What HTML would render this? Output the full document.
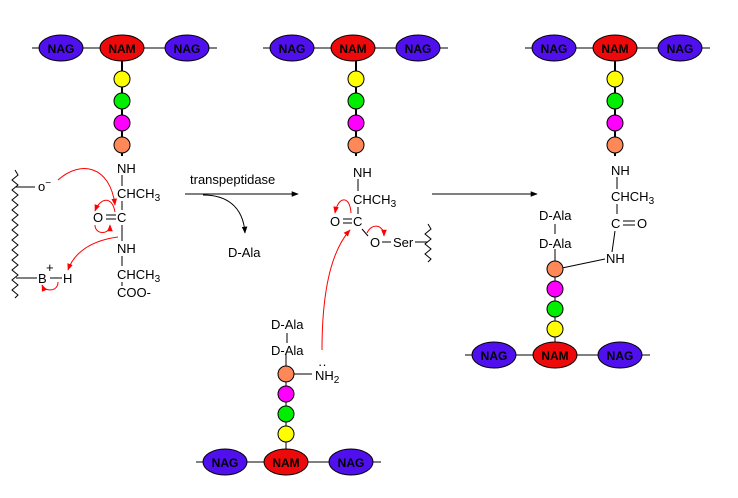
<!DOCTYPE html>
<html><head><style>body{margin:0;background:#fff}svg{display:block}text{font-family:"Liberation Sans",sans-serif;font-size:13px}.l{font-weight:bold;font-size:12px}</style></head><body>
<svg width="738" height="498" viewBox="0 0 738 498" xmlns="http://www.w3.org/2000/svg">
<defs>
<marker id="ar" viewBox="0 0 10 10" refX="9" refY="5" markerWidth="7" markerHeight="7" orient="auto"><path d="M0,1 L10,5 L0,9 z" fill="red"/></marker>
<marker id="ak" viewBox="0 0 10 10" refX="9" refY="5" markerWidth="7" markerHeight="7" orient="auto"><path d="M0,1 L10,5 L0,9 z" fill="#000"/></marker>
<g id="sug">
<line x1="-90" y1="0" x2="95" y2="0" stroke="#000"/>
<ellipse cx="-61" cy="0" rx="22" ry="13" fill="#5010ee" stroke="#000"/>
<ellipse cx="0" cy="0" rx="22" ry="13" fill="#ee0a0a" stroke="#000"/>
<ellipse cx="65" cy="0" rx="22" ry="13" fill="#5010ee" stroke="#000"/>
<text x="-61" y="5" class="l" text-anchor="middle">NAG</text>
<text x="0" y="5" class="l" text-anchor="middle">NAM</text>
<text x="65" y="5" class="l" text-anchor="middle">NAG</text>
</g>
<g id="beadsD">
<line x1="0" y1="0" x2="0" y2="108" stroke="#000" stroke-width="2"/>
<circle cx="0" cy="31" r="8" fill="#ffff00" stroke="#000"/>
<circle cx="0" cy="53" r="8" fill="#00ee00" stroke="#000"/>
<circle cx="0" cy="75" r="8" fill="#ff00ff" stroke="#000"/>
<circle cx="0" cy="97" r="8" fill="#ff8858" stroke="#000"/>
</g>
<g id="beadsU">
<line x1="0" y1="0" x2="0" y2="-108" stroke="#000"/>
<circle cx="0" cy="-28" r="8" fill="#ffff00" stroke="#000"/>
<circle cx="0" cy="-48" r="8" fill="#00ee00" stroke="#000"/>
<circle cx="0" cy="-68" r="8" fill="#ff00ff" stroke="#000"/>
<circle cx="0" cy="-88" r="8" fill="#ff8858" stroke="#000"/>
</g>
</defs>

<!-- Left -->
<use href="#beadsD" x="122" y="48"/>
<use href="#sug" x="122" y="48"/>
<text x="117" y="173">NH</text>
<line x1="122" y1="175" x2="122" y2="186" stroke="#000"/>
<text x="117" y="198">CHCH<tspan font-size="10" dy="3">3</tspan></text>
<line x1="122" y1="201" x2="122" y2="210" stroke="#000"/>
<text x="93" y="222">O</text><line x1="106" y1="215" x2="116" y2="215" stroke="#000"/><line x1="106" y1="219" x2="116" y2="219" stroke="#000"/>
<text x="117" y="222">C</text>
<line x1="122" y1="225" x2="122" y2="241" stroke="#000"/>
<text x="117" y="253">NH</text>
<line x1="122" y1="256" x2="122" y2="266" stroke="#000"/>
<text x="117" y="279">CHCH<tspan font-size="10" dy="3">3</tspan></text>
<line x1="122" y1="282" x2="122" y2="286" stroke="#000"/>
<text x="117" y="297">COO-</text>
<polyline points="15,170 18,175 12,180 18,185 12,190 18,195 12,200 18,205 12,210 18,215 12,220 18,225 12,230 18,235 12,240 18,245 12,250 18,255 12,260 18,265 12,270 18,275 12,280 18,285 12,290 18,295 15,298" fill="none" stroke="#000"/>
<line x1="16" y1="187" x2="35" y2="187" stroke="#000"/>
<text x="38" y="191">o<tspan font-size="10" dy="-5">−</tspan></text>
<line x1="16" y1="278" x2="37" y2="278" stroke="#000"/>
<text x="38" y="283">B</text><text x="46" y="272" font-size="10">+</text>
<line x1="50" y1="278" x2="62" y2="278" stroke="#000"/>
<text x="63" y="283">H</text>
<g fill="none" stroke="red">
<path d="M58,180 C80,160 110,165 115,205" marker-end="url(#ar)"/>
<path d="M115,212 C112,195 100,198 95,211" marker-end="url(#ar)"/>
<path d="M95,225 C95,235 110,235 110,225" marker-end="url(#ar)"/>
<path d="M118,237 C95,240 75,250 68,270" marker-end="url(#ar)"/>
<path d="M58,282 C58,292 45,292 42,285" marker-end="url(#ar)"/>
</g>

<!-- transpeptidase arrow -->
<text x="190" y="184">transpeptidase</text>
<line x1="185" y1="194" x2="298" y2="194" stroke="#000" marker-end="url(#ak)"/>
<path d="M203,195 C225,195 243,205 245,233" fill="none" stroke="#000" marker-end="url(#ak)"/>
<text x="228" y="257">D-Ala</text>

<!-- Middle -->
<use href="#beadsD" x="356" y="48"/>
<use href="#sug" x="353" y="48"/>
<text x="353" y="177">NH</text>
<line x1="358" y1="179" x2="358" y2="191" stroke="#000"/>
<text x="353" y="204">CHCH<tspan font-size="10" dy="3">3</tspan></text>
<line x1="358" y1="207" x2="358" y2="214" stroke="#000"/>
<text x="330" y="226">O</text><line x1="343" y1="219" x2="352" y2="219" stroke="#000"/><line x1="343" y1="223" x2="352" y2="223" stroke="#000"/>
<text x="353" y="226">C</text>
<line x1="362" y1="229" x2="368" y2="236" stroke="#000"/>
<text x="370" y="247">O</text><line x1="382" y1="242" x2="391" y2="242" stroke="#000"/>
<text x="393" y="247">Ser</text><line x1="415" y1="242" x2="428" y2="242" stroke="#000"/>
<polyline points="428,224 431,229 425,234 431,239 425,244 431,249 425,254 431,259 428,262" fill="none" stroke="#000"/>
<g fill="none" stroke="red">
<path d="M351,213 C350,195 338,196 335,213" marker-end="url(#ar)"/>
<path d="M367,233 C372,222 384,225 384,236" marker-end="url(#ar)"/>
<path d="M322,350 C322,290 332,250 350,230" marker-end="url(#ar)"/>
</g>
<text x="271" y="329">D-Ala</text>
<line x1="287" y1="333" x2="287" y2="343" stroke="#000"/>
<text x="271" y="355">D-Ala</text>
<line x1="286" y1="359" x2="286" y2="366" stroke="#000"/>
<use href="#beadsU" x="286" y="462"/>
<line x1="294" y1="374" x2="312" y2="374" stroke="#000"/>
<text x="315" y="380">NH<tspan font-size="10" dy="3">2</tspan></text>
<text x="318" y="369" font-size="10">··</text>
<use href="#sug" x="286" y="462"/>

<!-- arrow 2 -->
<line x1="432" y1="194" x2="537" y2="194" stroke="#000" marker-end="url(#ak)"/>

<!-- Right -->
<use href="#beadsD" x="615" y="48"/>
<use href="#sug" x="615" y="48"/>
<text x="611" y="175">NH</text>
<line x1="617" y1="177" x2="617" y2="189" stroke="#000"/>
<text x="611" y="201">CHCH<tspan font-size="10" dy="3">3</tspan></text>
<line x1="617" y1="204" x2="617" y2="214" stroke="#000"/>
<text x="611" y="228">C</text><line x1="623" y1="221" x2="635" y2="221" stroke="#000"/><line x1="623" y1="225" x2="635" y2="225" stroke="#000"/>
<text x="637" y="228">O</text>
<line x1="615" y1="231" x2="612" y2="252" stroke="#000"/>
<text x="606" y="263">NH</text>
<line x1="562" y1="268" x2="605" y2="259" stroke="#000"/>
<text x="539" y="220">D-Ala</text>
<line x1="555" y1="224" x2="555" y2="234" stroke="#000"/>
<text x="539" y="248">D-Ala</text>
<line x1="555" y1="252" x2="555" y2="262" stroke="#000"/>
<use href="#beadsU" x="555" y="357"/>
<use href="#sug" x="555" y="355"/>
</svg>
</body></html>
